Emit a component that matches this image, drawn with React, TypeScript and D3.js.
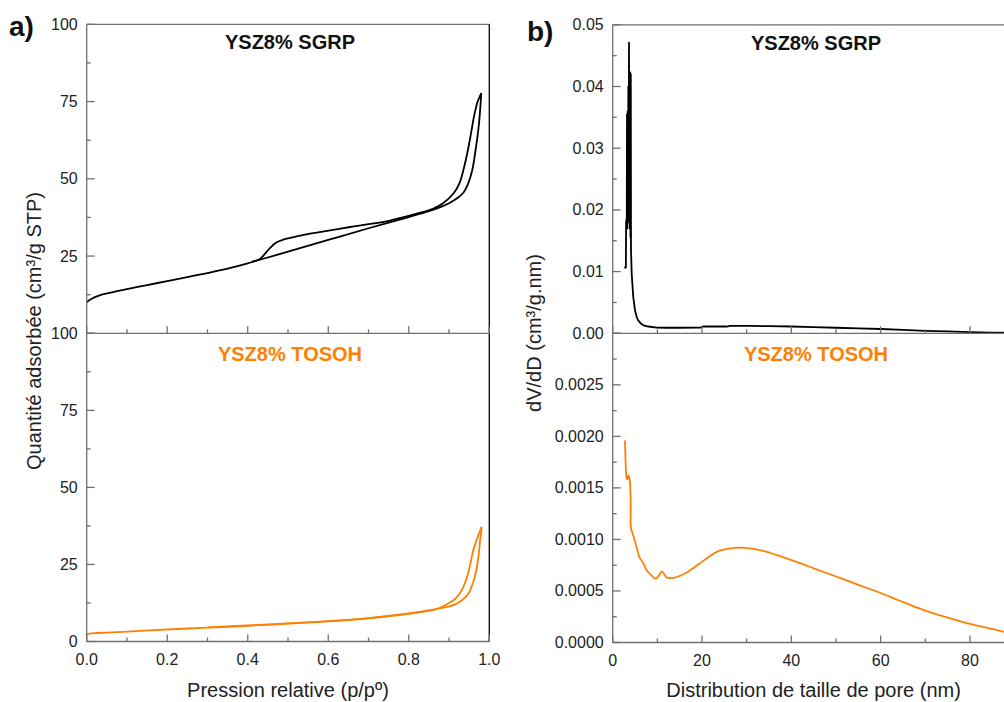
import React from "react";
import * as d3 from "d3";

// ---------- data ----------
const sgrpAdsorption: [number, number][] = [
  [0, 10], [0.01, 11.0], [0.03, 12.2], [0.06, 13.2], [0.1, 14.3], [0.15, 15.6], [0.2, 16.9],
  [0.25, 18.2], [0.3, 19.5], [0.35, 20.9], [0.4, 22.6], [0.43, 23.8], [0.5, 26.4], [0.6, 30.2],
  [0.7, 34.0], [0.8, 37.6], [0.85, 39.5], [0.88, 40.9], [0.9, 42.1], [0.92, 43.7], [0.935, 45.4],
  [0.948, 48.6], [0.958, 53.0], [0.966, 59.4], [0.972, 65.0], [0.976, 70.2], [0.979, 75.6], [0.98, 77.7],
];
const sgrpDesorption: [number, number][] = [
  [0.98, 77.7], [0.976, 76.5], [0.971, 75.0], [0.966, 72.5], [0.962, 70.2], [0.955, 65.0],
  [0.947, 59.4], [0.936, 53.0], [0.926, 48.6], [0.912, 45.4], [0.885, 42.1], [0.86, 40.3],
  [0.82, 38.7], [0.753, 36.5], [0.654, 34.4], [0.571, 32.6], [0.53, 31.6], [0.488, 30.3],
  [0.471, 29.4], [0.455, 27.6], [0.44, 25.3], [0.43, 24.0], [0.41, 23.2],
];
const tosohAdsorption: [number, number][] = [
  [0, 2.4], [0.02, 2.7], [0.05, 2.9], [0.1, 3.2], [0.2, 3.9], [0.3, 4.5], [0.4, 5.1], [0.5, 5.8],
  [0.6, 6.5], [0.7, 7.5], [0.8, 9.0], [0.86, 10.3], [0.9, 11.4], [0.919, 12.3], [0.935, 13.7],
  [0.948, 15.5], [0.958, 18.5], [0.964, 21.0], [0.969, 24.0], [0.974, 28.5], [0.977, 32.7],
  [0.98, 35.5], [0.981, 37.2],
];
const tosohDesorption: [number, number][] = [
  [0.981, 37.2], [0.978, 36.3], [0.972, 34.2], [0.966, 32.0], [0.96, 29.5], [0.955, 26.5],
  [0.95, 23.5], [0.943, 20.3], [0.935, 17.5], [0.925, 15.3], [0.915, 13.8], [0.9, 12.5],
  [0.885, 11.4], [0.87, 10.6], [0.85, 10.0], [0.8, 9.1], [0.7, 7.6], [0.6, 6.6], [0.5, 5.9],
  [0.4, 5.2], [0.3, 4.6],
];
const sgrpPSD: [number, number][] = [
  [2.75, 0.0105], [2.85, 0.0108], [2.95, 0.0107], [3.0, 0.018], [3.1, 0.0185], [3.15, 0.0175],
  [3.2, 0.0355], [3.3, 0.017], [3.35, 0.036], [3.45, 0.018], [3.5, 0.04], [3.6, 0.019],
  [3.65, 0.0471], [3.72, 0.02], [3.78, 0.0423], [3.85, 0.017], [3.9, 0.0423], [3.98, 0.0156],
  [4.05, 0.042], [4.1, 0.0135], [4.25, 0.0097], [4.6, 0.0059], [5.0, 0.0037], [5.4, 0.0026],
  [5.7, 0.0021], [6.3, 0.0016], [6.9, 0.0013], [8, 0.0011], [9.85, 0.00093], [12, 0.0009],
  [15, 0.0009], [19.6, 0.00092], [20.2, 0.0011], [25.5, 0.0011], [26.3, 0.0012], [30.8, 0.0012],
  [35, 0.00115], [40, 0.0011], [45, 0.001], [50, 0.0009], [55, 0.0008], [60, 0.0007],
  [65, 0.00055], [70, 0.0004], [75, 0.0003], [80, 0.0002], [85, 0.00012], [90, 0.0001],
];
const tosohPSD: [number, number][] = [
  [2.75, 0.00196], [2.85, 0.0018], [2.98, 0.00166], [3.1, 0.0016], [3.27, 0.00158], [3.5, 0.00162],
  [3.72, 0.0016], [3.9, 0.00153], [4.03, 0.00134], [4.1, 0.00111], [4.6, 0.00104], [5.0, 0.00098],
  [5.5, 0.0009], [5.96, 0.00083], [6.85, 0.00077], [7.6, 0.0007], [8.5, 0.00066], [9.5, 0.00062],
  [10.2, 0.00064], [11.0, 0.00069], [11.6, 0.00066], [12.1, 0.00063], [13.95, 0.00063],
  [15.2, 0.00065], [16.6, 0.00068], [18.3, 0.00073], [19.9, 0.00078], [21.5, 0.00083],
  [23.3, 0.00088], [26, 0.00091], [28.5, 0.00092], [31, 0.00091], [34.5, 0.00088], [38, 0.00083],
  [42, 0.00077], [45, 0.00072], [49.4, 0.00065], [55, 0.00056], [60, 0.00048], [64, 0.00041],
  [68, 0.00034], [72, 0.00028], [76, 0.00023], [80, 0.00018], [84, 0.00014], [88, 0.0001],
  [90, 0.00008],
];

const leftXTicks = [0, 0.2, 0.4, 0.6, 0.8, 1.0];
const leftXMinor = [0.1, 0.3, 0.5, 0.7, 0.9];
const leftYTicks = [0, 25, 50, 75, 100];
const leftYMinor = [12.5, 37.5, 62.5, 87.5];
const rightXTicks = [0, 20, 40, 60, 80];
const rightXMinor = [10, 30, 50, 70, 90];
const rightTopYTicks = [0, 0.01, 0.02, 0.03, 0.04, 0.05];
const rightTopYMinor = [0.005, 0.015, 0.025, 0.035, 0.045];
const rightBotYTicks = [0, 0.0005, 0.001, 0.0015, 0.002, 0.0025, 0.003];
const rightBotYMinor = [0.00025, 0.00075, 0.00125, 0.00175, 0.00225, 0.00275];

const titleTop = "YSZ8% SGRP";
const titleBottom = "YSZ8% TOSOH";
const leftXLabel = "Pression relative (p/p\u00ba)";
const leftYLabel = "Quantit\u00e9 adsorb\u00e9e (cm\u00b3/g STP)";
const rightXLabel = "Distribution de taille de pore (nm)";
const rightYLabel = "dV/dD (cm\u00b3/g.nm)";

// ---------- style ----------
const AX = "#707070";
const BLACK = "#000";
const ORANGE = "#ff8000";
const TXT = "#222";
const FONT = "'Liberation Sans', Arial, sans-serif";

const xL = d3.scaleLinear().domain([0, 1]).range([86.7, 489.3]);
const yLT = d3.scaleLinear().domain([0, 100]).range([333.3, 24.3]);
const yLB = d3.scaleLinear().domain([0, 100]).range([641.5, 333.3]);
const xR = d3.scaleLinear().domain([0, 90]).range([612.7, 1014.6]);
const yRT = d3.scaleLinear().domain([0, 0.05]).range([333.3, 24.8]);
const yRB = d3.scaleLinear().domain([0, 0.003]).range([642.5, 333.3]);

function mkLine(x: any, y: any, smooth: boolean) {
  const l = d3.line<[number, number]>().x((d) => x(d[0])).y((d) => y(d[1]));
  if (smooth) l.curve(d3.curveCatmullRom.alpha(0.5));
  return l;
}

function YTicks({ x0, y, major, minor, fmt, hide }: any) {
  return (
    <g>
      {major.map((v: number) => (
        <line key={"M" + v} x1={x0} x2={x0 + 8} y1={y(v)} y2={y(v)} stroke={AX} strokeWidth={1.3} />
      ))}
      {minor.map((v: number) => (
        <line key={"m" + v} x1={x0} x2={x0 + 4} y1={y(v)} y2={y(v)} stroke={AX} strokeWidth={1.3} />
      ))}
      {major
        .filter((v: number) => !(hide || []).includes(v))
        .map((v: number) => (
          <text key={"t" + v} x={x0 - 9} y={y(v) + 5.5} textAnchor="end" fontSize={16} fill={TXT} fontFamily={FONT}>
            {fmt(v)}
          </text>
        ))}
    </g>
  );
}

function XTicks({ y0, x, major, minor, fmt, labels }: any) {
  return (
    <g>
      {major.map((v: number) => (
        <line key={"M" + v} x1={x(v)} x2={x(v)} y1={y0} y2={y0 - 7} stroke={AX} strokeWidth={1.3} />
      ))}
      {minor.map((v: number) => (
        <line key={"m" + v} x1={x(v)} x2={x(v)} y1={y0} y2={y0 - 4} stroke={AX} strokeWidth={1.3} />
      ))}
      {labels &&
        major.map((v: number) => (
          <text key={"t" + v} x={x(v)} y={y0 + 23} textAnchor="middle" fontSize={16} fill={TXT} fontFamily={FONT}>
            {fmt(v)}
          </text>
        ))}
    </g>
  );
}

export default function App() {
  const lt = mkLine(xL, yLT, true);
  const lb = mkLine(xL, yLB, true);
  const rt = mkLine(xR, yRT, false);
  const rb = mkLine(xR, yRB, true);
  const [lx0, lx1] = xL.range();
  const [rx0, rx1] = xR.range();
  return (
    <svg width={1004} height={702} style={{ position: "absolute", left: 0, top: 0, background: "#fff" }}>
      <rect x={0} y={0} width={1004} height={702} fill="#fff" />
      {/* panel labels */}
      <text x={9} y={36} fontSize={28} fontWeight="bold" fontFamily={FONT} fill="#111">a)</text>
      <text x={527} y={41} fontSize={28} fontWeight="bold" fontFamily={FONT} fill="#111">b)</text>

      {/* ---- left panel ---- */}
      <path d={lt(sgrpAdsorption) || ""} fill="none" stroke={BLACK} strokeWidth={1.8} />
      <path d={lt(sgrpDesorption) || ""} fill="none" stroke={BLACK} strokeWidth={1.8} />
      <path d={lb(tosohAdsorption) || ""} fill="none" stroke={ORANGE} strokeWidth={1.8} />
      <path d={lb(tosohDesorption) || ""} fill="none" stroke={ORANGE} strokeWidth={1.8} />

      <line x1={lx0} x2={lx1} y1={yLT(100)} y2={yLT(100)} stroke={AX} strokeWidth={1.3} />
      <line x1={lx1} x2={lx1} y1={yLT(100)} y2={yLB(0)} stroke={BLACK} strokeWidth={1.3} />
      <line x1={lx0} x2={lx0} y1={yLT(100)} y2={yLB(0)} stroke={AX} strokeWidth={1.3} />
      <line x1={lx0} x2={lx1} y1={yLT(0)} y2={yLT(0)} stroke={AX} strokeWidth={1.3} />
      <line x1={lx0} x2={lx1} y1={yLB(0)} y2={yLB(0)} stroke={AX} strokeWidth={1.3} />
      <YTicks x0={lx0} y={yLT} major={leftYTicks} minor={leftYMinor} fmt={(v: number) => String(v)} hide={[0]} />
      <YTicks x0={lx0} y={yLB} major={leftYTicks} minor={leftYMinor} fmt={(v: number) => String(v)} />
      <XTicks y0={yLT(0)} x={xL} major={leftXTicks} minor={leftXMinor} />
      <XTicks y0={yLB(0)} x={xL} major={leftXTicks} minor={leftXMinor} fmt={d3.format(".1f")} labels />

      <text x={290} y={49} textAnchor="middle" fontSize={20} fontWeight="bold" fontFamily={FONT} fill="#111">{titleTop}</text>
      <text x={290} y={361} textAnchor="middle" fontSize={20} fontWeight="bold" fontFamily={FONT} fill={ORANGE}>{titleBottom}</text>
      <text x={288} y={697} textAnchor="middle" fontSize={20} fontFamily={FONT} fill={TXT}>{leftXLabel}</text>
      <text transform={`translate(41,331) rotate(-90)`} textAnchor="middle" fontSize={20} fontFamily={FONT} fill={TXT}>{leftYLabel}</text>

      {/* ---- right panel ---- */}
      <path d={rt(sgrpPSD) || ""} fill="none" stroke={BLACK} strokeWidth={1.8} strokeLinejoin="round" />
      <path d={rb(tosohPSD) || ""} fill="none" stroke={ORANGE} strokeWidth={1.8} strokeLinejoin="round" />

      <line x1={rx0} x2={rx1} y1={yRT(0.05)} y2={yRT(0.05)} stroke={AX} strokeWidth={1.3} />
      <line x1={rx1} x2={rx1} y1={yRT(0.05)} y2={yRB(0)} stroke={BLACK} strokeWidth={1.3} />
      <line x1={rx0} x2={rx0} y1={yRT(0.05)} y2={yRB(0)} stroke={AX} strokeWidth={1.3} />
      <line x1={rx0} x2={rx1} y1={yRT(0)} y2={yRT(0)} stroke={AX} strokeWidth={1.3} />
      <line x1={rx0} x2={rx1} y1={yRB(0)} y2={yRB(0)} stroke={AX} strokeWidth={1.3} />
      <YTicks x0={rx0} y={yRT} major={rightTopYTicks} minor={rightTopYMinor} fmt={d3.format(".2f")} />
      <YTicks x0={rx0} y={yRB} major={rightBotYTicks} minor={rightBotYMinor} fmt={d3.format(".4f")} hide={[0.003]} />
      <XTicks y0={yRT(0)} x={xR} major={rightXTicks} minor={rightXMinor} />
      <XTicks y0={yRB(0)} x={xR} major={rightXTicks} minor={rightXMinor} fmt={(v: number) => String(v)} labels />

      <text x={816} y={49.5} textAnchor="middle" fontSize={20} fontWeight="bold" fontFamily={FONT} fill="#111">{titleTop}</text>
      <text x={816} y={361} textAnchor="middle" fontSize={20} fontWeight="bold" fontFamily={FONT} fill={ORANGE}>{titleBottom}</text>
      <text x={813.6} y={697} textAnchor="middle" fontSize={20} fontFamily={FONT} fill={TXT}>{rightXLabel}</text>
      <text transform={`translate(541,333) rotate(-90)`} textAnchor="middle" fontSize={20} fontFamily={FONT} fill={TXT}>{rightYLabel}</text>
    </svg>
  );
}
